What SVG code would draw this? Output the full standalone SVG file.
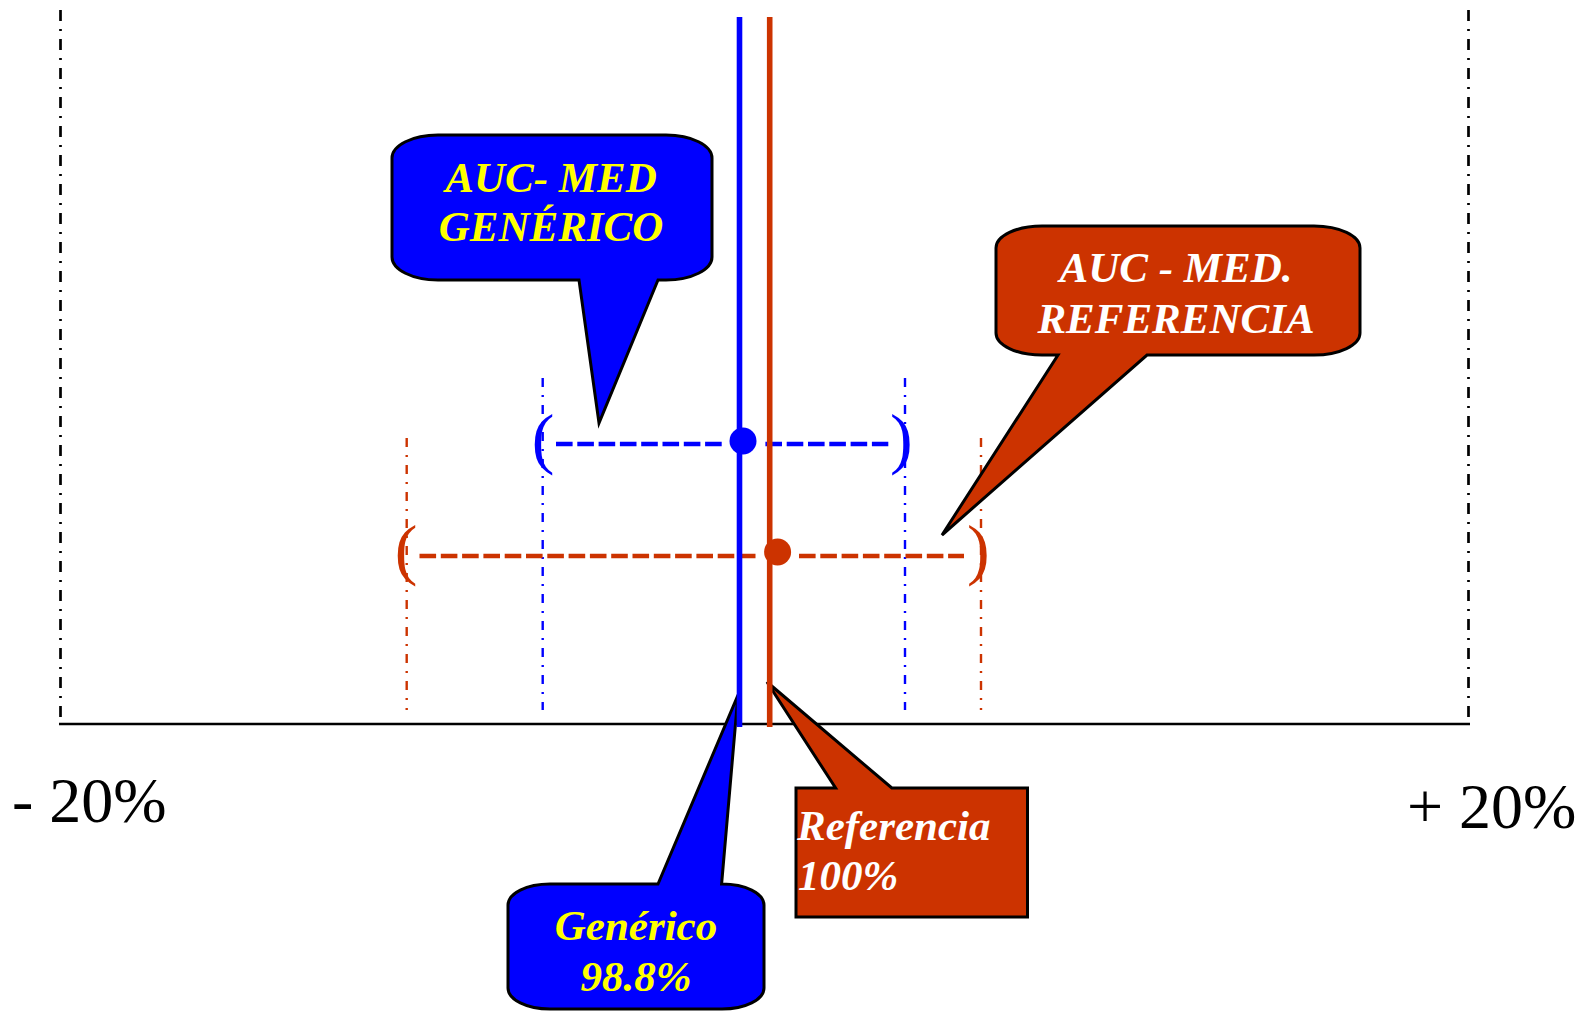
<svg xmlns="http://www.w3.org/2000/svg" width="1584" height="1012" viewBox="0 0 1584 1012">
  <style>
    .frame { stroke: #000; stroke-width: 2.7; fill: none; stroke-dasharray: 11 8 2 8; }
    .axis { stroke: #000; stroke-width: 2.7; fill: none; }
    .limit-b { stroke: #0000ff; stroke-width: 2.4; stroke-dasharray: 9 8 2 8; fill: none; }
    .limit-r { stroke: #cc3300; stroke-width: 2.4; stroke-dasharray: 9 8 2 8; fill: none; }
    .ci-b { stroke: #0000ff; stroke-width: 4.6; stroke-dasharray: 16.6 4.7; fill: none; }
    .ci-r { stroke: #cc3300; stroke-width: 4.6; stroke-dasharray: 16.6 4.7; fill: none; }
    .mean-b { stroke: #0000ff; stroke-width: 5.6; }
    .mean-r { stroke: #cc3300; stroke-width: 5.6; }
    .paren { font-family: "Liberation Serif", "Times New Roman", serif; font-size: 68px; }
    .tick { font-family: "Liberation Serif", "Times New Roman", serif; font-size: 64px; fill: #000; }
    .call { stroke: #000; stroke-width: 3; stroke-linejoin: miter; }
    .lbl { font-family: "Liberation Serif", "Times New Roman", serif; font-size: 43px; font-weight: bold; font-style: italic; }
  </style>

  <!-- frame: +/-20% limits and baseline axis -->
  <g id="frame">
    <line class="frame" x1="60.5" y1="10" x2="60.5" y2="724"/>
    <line class="frame" x1="1468.5" y1="10" x2="1468.5" y2="724"/>
    <line class="axis" x1="59" y1="724" x2="1470" y2="724"/>
    <text class="tick" x="12" y="822">- 20%</text>
    <text class="tick" x="1407" y="828">+ 20%</text>
  </g>

  <!-- confidence interval limits -->
  <g id="limits">
    <line class="limit-b" x1="542.7" y1="378" x2="542.7" y2="710"/>
    <line class="limit-b" x1="905" y1="378" x2="905" y2="710"/>
    <line class="limit-r" x1="406.7" y1="438" x2="406.7" y2="710"/>
    <line class="limit-r" x1="981" y1="438" x2="981" y2="710"/>
  </g>

  <!-- generic interval -->
  <g id="ci-generico">
    <path class="ci-b" d="M556,444 H722 M765.4,444 H888.3"/>
    <text class="paren" x="531.7" y="461" fill="#0000ff">(</text>
    <text class="paren" x="890" y="461" fill="#0000ff">)</text>
  </g>

  <!-- reference interval -->
  <g id="ci-referencia">
    <path class="ci-r" d="M419.5,556 H755.5 M799,556 H964"/>
    <text class="paren" x="394.7" y="572" fill="#cc3300">(</text>
    <text class="paren" x="967" y="572" fill="#cc3300">)</text>
  </g>

  <!-- callouts -->
  <g id="callout-auc-generico">
    <path class="call" fill="#0000ff" d="M438,135 H666 A46 23 0 0 1 712,158 V257 A46 23 0 0 1 666,280 H658 L599,423 L579,280 H438 A46 23 0 0 1 392,257 V158 A46 23 0 0 1 438,135 Z"/>
    <text class="lbl" fill="#ffff00" text-anchor="middle" x="551" y="192">AUC- MED</text>
    <text class="lbl" fill="#ffff00" text-anchor="middle" x="551" y="241">GENÉRICO</text>
  </g>

  <g id="callout-auc-referencia">
    <path class="call" fill="#cc3300" d="M1042,226 H1314 A46 22 0 0 1 1360,248 V333 A46 22 0 0 1 1314,355 H1147 L942,535 L1058,355 H1042 A46 22 0 0 1 996,333 V248 A46 22 0 0 1 1042,226 Z"/>
    <text class="lbl" fill="#ffffff" text-anchor="middle" x="1176" y="282">AUC - MED.</text>
    <text class="lbl" fill="#ffffff" text-anchor="middle" x="1176" y="333">REFERENCIA</text>
  </g>

  <g id="callout-generico">
    <path class="call" fill="#0000ff" d="M550,884 H658 L738,695 L721.6,884 H722 A42 21 0 0 1 764,905 V988 A42 21 0 0 1 722,1009 H550 A42 21 0 0 1 508,988 V905 A42 21 0 0 1 550,884 Z"/>
    <text class="lbl" fill="#ffff00" text-anchor="middle" x="636" y="940">Genérico</text>
    <text class="lbl" fill="#ffff00" text-anchor="middle" x="636" y="991">98.8%</text>
  </g>

  <g id="callout-referencia">
    <path class="call" fill="#cc3300" d="M796,788 H835.6 L767,682 L891.8,788 H1027.5 V917 H796 Z"/>
    <text class="lbl" fill="#ffffff" x="797" y="840">Referencia</text>
    <text class="lbl" fill="#ffffff" x="798" y="890">100%</text>
  </g>

  <!-- point estimates -->
  <g id="means">
    <line class="mean-b" x1="739.5" y1="17" x2="739.5" y2="727"/>
    <line class="mean-r" x1="769.7" y1="17" x2="769.7" y2="727"/>
    <circle cx="743" cy="441" r="13.5" fill="#0000ff"/>
    <circle cx="777.6" cy="552" r="13.5" fill="#cc3300"/>
  </g>
</svg>
